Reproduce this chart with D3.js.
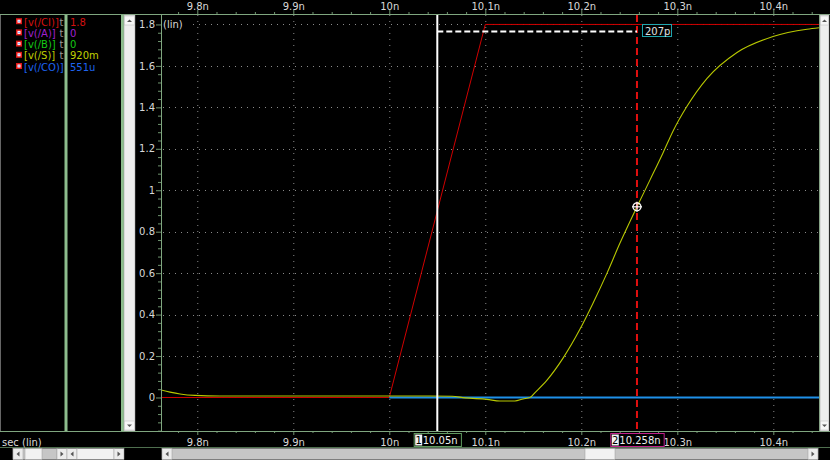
<!DOCTYPE html>
<html>
<head>
<meta charset="utf-8">
<script src="https://cdn.jsdelivr.net/npm/d3@7"></script>
<style>
body { margin: 0; background: #000; }
svg { display: block; font-family: "DejaVu Sans", sans-serif; }
</style>
</head>
<body>
<div id="chart"></div>
<script>
var W = 830, H = 460;

// signals shown in the legend, values read at cursor 2
var sigNames = ["v(/CI)", "v(/A)", "v(/B)", "v(/S)", "v(/CO)"];
var sigColors = ["#d41010", "#a020d0", "#14c814", "#c0d000", "#1e64f0"];
var cursorValues = ["1.8", "0", "0", "920m", "551u"];

// waveforms, time in ns, value in V
var ciTime = [9.7622, 10.0, 10.1, 10.4476];
var ciVolt = [0, 0, 1.8, 1.8];

var sTime = [9.7622, 9.7716, 9.782, 9.7976, 9.8236, 9.907, 10.0, 10.0424, 10.0653, 10.0789,
             10.1018, 10.1153, 10.1309, 10.1393, 10.1466, 10.1518, 10.1643, 10.181, 10.1987,
             10.2122, 10.2268, 10.2403, 10.258, 10.2716, 10.2851, 10.2955, 10.3101, 10.331,
             10.3622, 10.3997, 10.4351, 10.4476];
var sVolt = [0.036, 0.026, 0.017, 0.010, 0.007, 0.007, 0.007, 0.007, 0.006, -0.002,
             -0.009, -0.017, -0.017, -0.007, 0.0, 0.024, 0.084, 0.19, 0.33,
             0.455, 0.60, 0.745, 0.92, 1.05, 1.18, 1.285, 1.405, 1.54,
             1.665, 1.742, 1.777, 1.784];

var coTime = [10.0, 10.4476];
var coVolt = [0, 0];

var xTicks = [9.8, 9.9, 10.0, 10.1, 10.2, 10.3, 10.4];
var xTickLabels = ["9.8n", "9.9n", "10n", "10.1n", "10.2n", "10.3n", "10.4n"];
var yTicks = [0, 0.2, 0.4, 0.6, 0.8, 1.0, 1.2, 1.4, 1.6, 1.8];
var yTickLabels = ["0", "0.2", "0.4", "0.6", "0.8", "1", "1.2", "1.4", "1.6", "1.8"];

var cursor1 = 10.05, cursor1Label = "10.05n";
var cursor2 = 10.258, cursor2Label = "10.258n";
var cursor2Value = 0.92;
var deltaLevel = 1.769, deltaLabel = "207p";

var plot = { left: 161, right: 819, top: 15, bottom: 431 };

var x = d3.scaleLinear().domain([9.7622, 10.4476]).range([plot.left, plot.right]);
var y = d3.scaleLinear().domain([-0.1617, 1.8456]).range([plot.bottom, plot.top]);

var xMinor = d3.range(489, 523).map(function(k) { return k / 50; }).filter(function(d) {
  return Math.abs(d * 10 - Math.round(d * 10)) > 1e-6;
});
var yMinor = d3.range(-4, 46).map(function(k) { return k * 0.04; }).filter(function(d) {
  return Math.abs(d * 5 - Math.round(d * 5)) > 1e-6;
});

var svg = d3.select("#chart").append("svg").attr("width", W).attr("height", H);
svg.append("rect").attr("width", W).attr("height", H).attr("fill", "#000");

var green = "#7fa67f";
var paleGreen = "#8dbd8d";
var tickCol = "#6f936f";
var textCol = "#d8d8d8";

// grid
var grid = svg.append("g").attr("stroke", "#8a8a8a").attr("stroke-dasharray", "1,5");
xTicks.forEach(function(d) {
  grid.append("line").attr("x1", x(d) + 0.5).attr("x2", x(d) + 0.5)
      .attr("y1", plot.top).attr("y2", plot.bottom);
});
yTicks.forEach(function(d) {
  grid.append("line").attr("x1", plot.left + 2).attr("x2", plot.right)
      .attr("y1", Math.round(y(d)) + 0.5).attr("y2", Math.round(y(d)) + 0.5);
});

// waveforms
svg.append("clipPath").attr("id", "clip").append("rect")
   .attr("x", plot.left).attr("y", plot.top)
   .attr("width", plot.right - plot.left).attr("height", plot.bottom - plot.top);

function wave(times, volts, color, width, curve) {
  var pts = times.map(function(t, i) { return [t, volts[i]]; });
  var line = d3.line().x(function(d) { return x(d[0]); }).y(function(d) { return y(d[1]); });
  if (curve) line.curve(curve);
  svg.append("path").attr("clip-path", "url(#clip)")
     .attr("d", line(pts)).attr("fill", "none")
     .attr("stroke", color).attr("stroke-width", width);
}

wave(ciTime, ciVolt, "#d00000", 1);
wave(coTime, coVolt, "#1e90e8", 2);
wave(sTime, sVolt, "#b8c800", 1.1, d3.curveMonotoneX);

// "(lin)" label on the top grid line
svg.append("rect").attr("x", plot.left + 1).attr("y", 17).attr("width", 26).attr("height", 13).attr("fill", "#000");
svg.append("text").attr("x", plot.left + 2).attr("y", y(1.8) + 3.5)
   .attr("font-size", 10).attr("fill", textCol).text("(lin)");

// cursors
svg.append("line").attr("x1", x(cursor1)).attr("x2", x(cursor1))
   .attr("y1", plot.top).attr("y2", plot.bottom)
   .attr("stroke", "#fff").attr("stroke-width", 2);
svg.append("line").attr("x1", x(cursor2)).attr("x2", x(cursor2))
   .attr("y1", plot.top).attr("y2", plot.bottom)
   .attr("stroke", "#e01010").attr("stroke-width", 2).attr("stroke-dasharray", "7,4");
svg.append("line").attr("x1", x(cursor1)).attr("x2", x(cursor2))
   .attr("y1", Math.round(y(deltaLevel)) + 0.5).attr("y2", Math.round(y(deltaLevel)) + 0.5)
   .attr("stroke", "#fff").attr("stroke-width", 2).attr("stroke-dasharray", "6,3");
var dl = svg.append("g").attr("transform", "translate(" + (x(cursor2) + 5) + ",24)");
dl.append("rect").attr("x", 0.5).attr("y", 0.5).attr("width", 29).attr("height", 12)
  .attr("fill", "#000").attr("stroke", "#20a8b0");
dl.append("text").attr("x", 3).attr("y", 10.5).attr("font-size", 10).attr("fill", "#e0e0e0").text(deltaLabel);

var mk = svg.append("g").attr("transform", "translate(" + x(cursor2) + "," + y(cursor2Value) + ")")
  .attr("stroke", "#fff").attr("fill", "none").attr("stroke-width", 1.2);
mk.append("circle").attr("r", 4);
mk.append("line").attr("x1", -5).attr("x2", 5);
mk.append("line").attr("y1", -5).attr("y2", 5);

// axes
var topMinor = svg.append("g").attr("transform", "translate(0,14)")
  .call(d3.axisTop(x).tickValues(xMinor).tickSize(2).tickFormat(""));
var topMajor = svg.append("g").attr("transform", "translate(0,14)")
  .call(d3.axisTop(x).tickValues(xTicks).tickSize(4).tickPadding(0)
        .tickFormat(function(d, i) { return xTickLabels[i]; }));
var botMinor = svg.append("g").attr("transform", "translate(0,431)")
  .call(d3.axisBottom(x).tickValues(xMinor).tickSize(2).tickFormat(""));
var botMajor = svg.append("g").attr("transform", "translate(0,431)")
  .call(d3.axisBottom(x).tickValues(xTicks).tickSize(4)
        .tickFormat(function(d, i) { return xTickLabels[i]; }));
botMajor.selectAll("text").attr("y", 15).attr("dy", null);

var leftMinor = svg.append("g").attr("transform", "translate(161,0)")
  .call(d3.axisLeft(y).tickValues(yMinor).tickSize(3).tickFormat(""));
var leftMajor = svg.append("g").attr("transform", "translate(161,0)")
  .call(d3.axisLeft(y).tickValues(yTicks).tickSize(5).tickPadding(1)
        .tickFormat(function(d, i) { return yTickLabels[i]; }));

[topMinor, topMajor, botMinor, botMajor, leftMinor, leftMajor].forEach(function(g) {
  g.select(".domain").remove();
  g.selectAll("line").attr("stroke", tickCol);
  g.selectAll("text").attr("fill", textCol).attr("font-size", 10)
   .attr("font-family", "DejaVu Sans, sans-serif");
});

// frame lines
svg.append("line").attr("x1", 0).attr("x2", W).attr("y1", 14.5).attr("y2", 14.5).attr("stroke", green);
svg.append("line").attr("x1", 0).attr("x2", W).attr("y1", 431.5).attr("y2", 431.5).attr("stroke", green);
svg.append("line").attr("x1", 0).attr("x2", W).attr("y1", 447.5).attr("y2", 447.5).attr("stroke", "#4f6f4f");
svg.append("line").attr("x1", 161.5).attr("x2", 161.5).attr("y1", 15).attr("y2", 431).attr("stroke", green);
svg.append("line").attr("x1", 819.5).attr("x2", 819.5).attr("y1", 15).attr("y2", 431).attr("stroke", green);
svg.append("line").attr("x1", 0.5).attr("x2", 0.5).attr("y1", 15).attr("y2", 431).attr("stroke", "#666");

// legend (clipped at the first divider)
svg.append("clipPath").attr("id", "legclip").append("rect")
   .attr("x", 0).attr("y", 15).attr("width", 64.5).attr("height", 416);
svg.append("clipPath").attr("id", "valclip").append("rect")
   .attr("x", 68).attr("y", 15).attr("width", 53).attr("height", 416);
var legNames = svg.append("g").attr("clip-path", "url(#legclip)");
var legVals = svg.append("g").attr("clip-path", "url(#valclip)");
sigNames.forEach(function(name, i) {
  var yy = 25.7 + i * 11.2;
  var row = legNames.append("g").attr("transform", "translate(0," + yy + ")");
  var lab = row.append("text").attr("x", 24).attr("font-size", 10).attr("fill", sigColors[i]).text("[" + name + "]");
  // the time column "t" only shows where the name leaves room for it
  if (24 + lab.node().getComputedTextLength() < 59) {
    row.append("text").attr("x", 59.5).attr("font-size", 10).attr("fill", "#9a9a9a").text("t");
  }
  row.append("rect").attr("x", 16).attr("y", -7.5).attr("width", 6).attr("height", 6).attr("fill", "#e01818");
  row.append("rect").attr("x", 17.5).attr("y", -6).attr("width", 3).attr("height", 3).attr("fill", "#fff");
  row.append("rect").attr("x", 18.5).attr("y", -5).attr("width", 1).attr("height", 1).attr("fill", "#2040ff");
  legVals.append("text").attr("x", 70).attr("y", yy).attr("font-size", 10)
    .attr("fill", sigColors[i]).text(cursorValues[i]);
});

svg.append("line").attr("x1", 66).attr("x2", 66).attr("y1", 15).attr("y2", 431).attr("stroke", paleGreen).attr("stroke-width", 3);
svg.append("line").attr("x1", 122.5).attr("x2", 122.5).attr("y1", 15).attr("y2", 431).attr("stroke", paleGreen).attr("stroke-width", 3);

// vertical scroll bars
function vScroll(x0, w) {
  var g = svg.append("g");
  g.append("rect").attr("x", x0).attr("y", 15).attr("width", w).attr("height", 416)
   .attr("fill", "#eeeeee").attr("stroke", "#9a9a9a").attr("stroke-width", 0.5);
  g.append("rect").attr("x", x0 + 0.5).attr("y", 16).attr("width", w - 1).attr("height", 9).attr("fill", "#f6f6f6").attr("stroke", "#bbb").attr("stroke-width", 0.5);
  g.append("rect").attr("x", x0 + 0.5).attr("y", 421).attr("width", w - 1).attr("height", 9).attr("fill", "#f6f6f6").attr("stroke", "#bbb").attr("stroke-width", 0.5);
  var cx = x0 + w / 2;
  g.append("path").attr("d", "M" + (cx - 2.5) + ",22L" + (cx + 2.5) + ",22L" + cx + ",19.5Z").attr("fill", "#555");
  g.append("path").attr("d", "M" + (cx - 2.5) + ",424.5L" + (cx + 2.5) + ",424.5L" + cx + ",427Z").attr("fill", "#555");
}
vScroll(124, 11);
vScroll(820, 9);

// bottom scroll bars
var sb = svg.append("g");
function hBox(x0, w, fill) {
  sb.append("rect").attr("x", x0).attr("y", 448.5).attr("width", w).attr("height", 11)
    .attr("fill", fill).attr("stroke", "#9a9a9a").attr("stroke-width", 0.5);
}
function arrow(cx, dir) {
  sb.append("path").attr("d", "M" + (cx - 1.5 * dir) + ",451.5L" + (cx - 1.5 * dir) + ",456.5L" + (cx + 1.5 * dir) + ",454Z").attr("fill", "#555");
}
hBox(13, 44, "#c6c6c6");
hBox(13, 10, "#ececec"); arrow(18, -1);
hBox(25, 17, "#f2f2f2");
hBox(57, 10, "#ececec"); arrow(62, 1);
hBox(67, 10, "#ececec"); arrow(72, -1);
hBox(77, 37, "#f2f2f2");
hBox(114, 10, "#ececec"); arrow(119, 1);
hBox(162, 656, "#c6c6c6");
hBox(162, 10, "#ececec"); arrow(167, -1);
hBox(585, 30, "#f2f2f2");
hBox(808, 10, "#ececec"); arrow(813, 1);

svg.append("text").attr("x", 2).attr("y", 446).attr("font-size", 10).attr("fill", textCol).text("sec (lin)");

// cursor labels on the bottom axis
function cursorTag(t, num, label, border) {
  var w = 8 + label.length * 6.2 + 2;
  var g = svg.append("g").attr("transform", "translate(" + (x(t) - w / 2) + ",433)");
  g.append("rect").attr("x", 0.5).attr("y", 0.5).attr("width", w).attr("height", 13)
   .attr("fill", "#000").attr("stroke", border);
  g.append("rect").attr("x", 1.5).attr("y", 1.5).attr("width", 7).attr("height", 11).attr("fill", "#f4f4f4");
  g.append("text").attr("x", 5).attr("y", 11).attr("text-anchor", "middle")
   .attr("font-size", 10).attr("fill", "#000").text(num);
  g.append("text").attr("x", 9).attr("y", 11).attr("font-size", 10).attr("fill", "#f0f0f0").text(label);
}
cursorTag(cursor1, "1", cursor1Label, "#5f9a5f");
cursorTag(cursor2, "2", cursor2Label, "#c0208a");
</script>
</body>
</html>
